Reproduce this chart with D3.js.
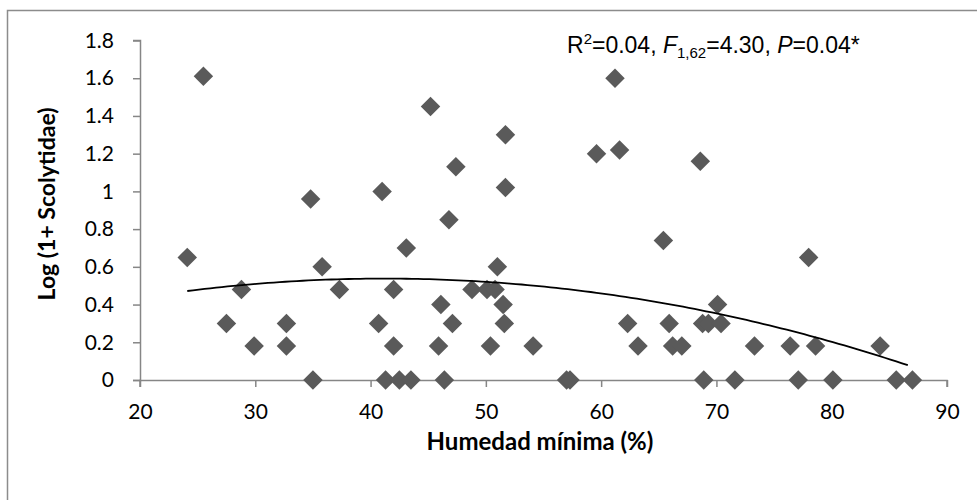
<!DOCTYPE html>
<html>
<head>
<meta charset="utf-8">
<script src="https://cdn.jsdelivr.net/npm/d3@7"></script>
<style>
  body { margin: 0; background: #fff; }
  .tick text { font-family: Lato, "Open Sans", sans-serif; font-size: 21px; fill: #000; }
</style>
</head>
<body>
<svg id="chart" width="977" height="500"></svg>
<script>
// humedad minima (%) and log(1+Scolytidae)
const humedad = [24.1, 25.5, 27.5, 28.8, 29.9, 32.7, 32.7, 34.8, 35.0, 35.8,
  37.3, 40.7, 41.0, 42.0, 42.0, 41.3, 42.5, 43.5, 45.2, 47.4,
  51.7, 51.7, 46.8, 43.1, 51.0, 48.8, 50.1, 50.8, 46.1, 51.5,
  47.1, 51.6, 45.9, 50.4, 54.1, 46.4, 57.0, 57.3, 59.6, 61.6,
  61.2, 65.4, 63.2, 62.3, 65.9, 68.6, 78.0, 70.1, 68.8, 69.3,
  70.4, 66.2, 67.0, 73.3, 76.4, 78.6, 84.2, 68.9, 71.6, 77.1,
  80.1, 85.6, 87.0];
const scolytidae = [0.65, 1.61, 0.30, 0.48, 0.18, 0.30, 0.18, 0.96, 0, 0.60,
  0.48, 0.30, 1.00, 0.48, 0.18, 0, 0, 0, 1.45, 1.13,
  1.30, 1.02, 0.85, 0.70, 0.60, 0.48, 0.48, 0.48, 0.40, 0.40,
  0.30, 0.30, 0.18, 0.18, 0.18, 0, 0, 0, 1.20, 1.22,
  1.60, 0.74, 0.18, 0.30, 0.30, 1.16, 0.65, 0.40, 0.30, 0.30,
  0.30, 0.18, 0.18, 0.18, 0.18, 0.18, 0.18, 0, 0, 0,
  0, 0, 0];
const xTicks = [20, 30, 40, 50, 60, 70, 80, 90];
const yTicks = [0, 0.2, 0.4, 0.6, 0.8, 1, 1.2, 1.4, 1.6, 1.8];

const data = humedad.map((h, i) => ({ x: h, y: scolytidae[i] }));

const svg = d3.select("#chart");

// outer frame (only left/top visible in the picture)
svg.append("path")
    .attr("d", "M7.5,500 L7.5,10.5 L977,10.5")
    .attr("fill", "none")
    .attr("stroke", "#8c8c8c")
    .attr("stroke-width", 1.5);

const x = d3.scaleLinear().domain([20, 90]).range([140, 947]);
const y = d3.scaleLinear().domain([0, 1.8]).range([380, 40.5]);

const yAxis = svg.append("g")
    .attr("transform", "translate(140,0)")
    .call(d3.axisLeft(y).tickValues(yTicks).tickSize(7).tickPadding(19)
        .tickFormat(d => String(+d.toFixed(1))));

const xAxis = svg.append("g")
    .attr("transform", "translate(0,380)")
    .call(d3.axisBottom(x).tickValues(xTicks).tickSize(7).tickPadding(17));

[xAxis, yAxis].forEach(g => {
    g.select(".domain").attr("stroke", "#868686").attr("stroke-width", 1.5);
    g.selectAll(".tick line").attr("stroke", "#868686").attr("stroke-width", 1.5);
});
yAxis.select(".domain").attr("d", "M-7,380.5H0.5V40.5H-7");
xAxis.select(".domain").attr("d", "M140,7V0.5H947V7");

// points
svg.append("g")
    .selectAll("path")
    .data(data)
    .enter().append("path")
    .attr("d", d3.symbol().type(d3.symbolSquare).size(190))
    .attr("transform", d => `translate(${x(d.x)},${y(d.y)}) rotate(45)`)
    .attr("fill", "#5a5a5a");

// polynomial (order 2) trendline, least squares fit of the points
function quadFit(pts) {
    let s = [0, 0, 0, 0, 0], t = [0, 0, 0];
    pts.forEach(p => {
        for (let k = 0; k < 5; k++) s[k] += Math.pow(p.x, k);
        for (let k = 0; k < 3; k++) t[k] += Math.pow(p.x, k) * p.y;
    });
    const m = [[s[0], s[1], s[2], t[0]], [s[1], s[2], s[3], t[1]], [s[2], s[3], s[4], t[2]]];
    for (let i = 0; i < 3; i++) {
        for (let j = i + 1; j < 3; j++) {
            const f = m[j][i] / m[i][i];
            for (let k = i; k < 4; k++) m[j][k] -= f * m[i][k];
        }
    }
    const c = [0, 0, 0];
    for (let i = 2; i >= 0; i--) {
        let v = m[i][3];
        for (let k = i + 1; k < 3; k++) v -= m[i][k] * c[k];
        c[i] = v / m[i][i];
    }
    return c;
}
const coef = quadFit(data);
const xMin = d3.min(humedad), xMax = d3.max(humedad);
const curve = d3.range(xMin, xMax + 0.01, 0.5).map(v => [v, coef[0] + coef[1] * v + coef[2] * v * v]);

svg.append("path")
    .datum(curve)
    .attr("fill", "none")
    .attr("stroke", "#000")
    .attr("stroke-width", 1.8)
    .attr("d", d3.line().x(d => x(d[0])).y(d => y(d[1])));

// axis titles
svg.append("text")
    .attr("x", 540)
    .attr("y", 450)
    .attr("text-anchor", "middle")
    .attr("font-family", "Lato, 'Open Sans', sans-serif")
    .attr("font-weight", "bold")
    .attr("font-size", "24px")
    .text("Humedad mínima (%)");

svg.append("text")
    .attr("transform", "translate(55,204) rotate(-90)")
    .attr("text-anchor", "middle")
    .attr("font-family", "Lato, 'Open Sans', sans-serif")
    .attr("font-weight", "bold")
    .attr("font-size", "23px")
    .text("Log (1+ Scolytidae)");

// statistics annotation
const stat = svg.append("text")
    .attr("x", 567)
    .attr("y", 53)
    .attr("font-family", "'Liberation Sans', Arial, sans-serif")
    .attr("font-size", "23px")
    .attr("fill", "#000");
stat.append("tspan").text("R");
stat.append("tspan").attr("font-size", "15px").attr("dy", -9).text("2");
stat.append("tspan").attr("dy", 9).text("=0.04, ");
stat.append("tspan").attr("font-style", "italic").text("F");
stat.append("tspan").attr("font-size", "15px").attr("dy", 5).text("1,62");
stat.append("tspan").attr("dy", -5).text("=4.30, ");
stat.append("tspan").attr("font-style", "italic").text("P");
stat.append("tspan").text("=0.04*");
</script>
</body>
</html>
